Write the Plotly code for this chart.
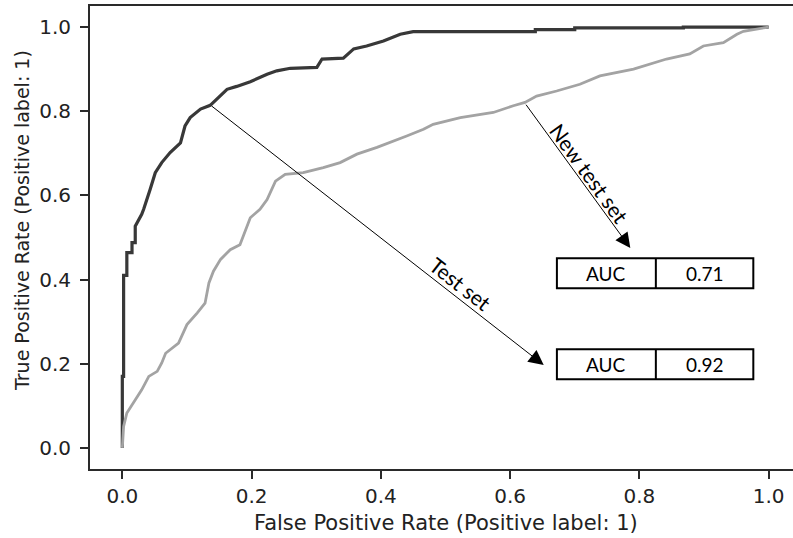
import plotly.graph_objects as go

# ---- data ----
fpr_test = [0, 0, 0.002, 0.002, 0.007, 0.007, 0.015, 0.015, 0.02, 0.02, 0.03, 0.033,
            0.043, 0.051, 0.061, 0.074, 0.09, 0.097, 0.105, 0.121, 0.136, 0.149, 0.162,
            0.177, 0.198, 0.224, 0.239, 0.26, 0.301, 0.309, 0.342, 0.358, 0.378, 0.404,
            0.43, 0.45, 0.639, 0.639, 0.70, 0.70, 0.868, 0.868, 1.0]
tpr_test = [0, 0.17, 0.17, 0.41, 0.41, 0.464, 0.464, 0.488, 0.488, 0.527, 0.555, 0.567,
            0.614, 0.654, 0.678, 0.702, 0.725, 0.765, 0.785, 0.805, 0.814, 0.833, 0.852,
            0.859, 0.87, 0.888, 0.896, 0.902, 0.904, 0.924, 0.926, 0.948, 0.955, 0.967,
            0.983, 0.989, 0.989, 0.994, 0.994, 0.998, 0.998, 1.0, 1.0]

fpr_new = [0, 0.002, 0.007, 0.017, 0.03, 0.041, 0.054, 0.061, 0.067, 0.087, 0.1, 0.116,
           0.128, 0.134, 0.141, 0.152, 0.167, 0.182, 0.193, 0.198, 0.213, 0.224, 0.237,
           0.252, 0.28, 0.311, 0.337, 0.363, 0.394, 0.414, 0.44, 0.466, 0.481, 0.523,
           0.574, 0.605, 0.623, 0.641, 0.672, 0.708, 0.739, 0.791, 0.842, 0.878, 0.899,
           0.93, 0.951, 0.961, 0.982, 1.0]
tpr_new = [0, 0.051, 0.083, 0.106, 0.138, 0.17, 0.182, 0.202, 0.225, 0.249, 0.293, 0.321,
           0.344, 0.392, 0.42, 0.448, 0.471, 0.483, 0.527, 0.547, 0.567, 0.59, 0.634,
           0.65, 0.654, 0.666, 0.678, 0.698, 0.714, 0.725, 0.741, 0.757, 0.769, 0.785,
           0.797, 0.813, 0.821, 0.836, 0.848, 0.864, 0.884, 0.9, 0.924, 0.936, 0.955,
           0.963, 0.983, 0.99, 0.996, 1.0]

tick_vals = [0.0, 0.2, 0.4, 0.6, 0.8, 1.0]
tick_text = ["0.0", "0.2", "0.4", "0.6", "0.8", "1.0"]

set_labels = ["Test set", "New test set"]
auc_label = "AUC"
auc_values = ["0.92", "0.71"]

x_title = "False Positive Rate (Positive label: 1)"
y_title = "True Positive Rate (Positive label: 1)"

# ---- figure ----
fig = go.Figure()
fig.add_trace(go.Scatter(x=fpr_test, y=tpr_test, mode="lines",
                         line=dict(color="#383838", width=3.2), showlegend=False))
fig.add_trace(go.Scatter(x=fpr_new, y=tpr_new, mode="lines",
                         line=dict(color="#a3a3a3", width=2.8), showlegend=False))

tick_font = dict(family="DejaVu Sans", size=20, color="#222222")
fig.update_layout(
    width=793, height=538,
    margin=dict(l=90, r=0, t=6, b=69),
    paper_bgcolor="white", plot_bgcolor="white",
    showlegend=False,
    xaxis=dict(range=[-0.05, 1.0377], tickvals=tick_vals, ticktext=tick_text,
               showgrid=False, zeroline=False, showline=True, mirror=True,
               linecolor="#2a2a2a", linewidth=2, ticks="outside", ticklen=8,
               tickwidth=2, tickcolor="#2a2a2a", tickfont=tick_font),
    yaxis=dict(range=[-0.05, 1.05], tickvals=tick_vals, ticktext=tick_text,
               showgrid=False, zeroline=False, showline=True, mirror=False,
               linecolor="#2a2a2a", linewidth=2, ticks="outside", ticklen=8,
               tickwidth=2, tickcolor="#2a2a2a", tickfont=tick_font,
               ticklabelstandoff=5),
)

# axis titles
fig.add_annotation(text=x_title, xref="x", yref="paper", x=0.501, y=-0.1166,
                   xanchor="center", yanchor="middle", showarrow=False,
                   font=dict(family="DejaVu Sans", size=21, color="#222222"))
fig.add_annotation(text=y_title, xref="paper", yref="paper", x=-0.0967, y=0.5356,
                   xanchor="center", yanchor="middle", textangle=-90, showarrow=False,
                   font=dict(family="DejaVu Sans", size=19, color="#222222"))

lbl_font = dict(family="Lato", size=19, color="black")
arrow_lbl_font = dict(family="Lato", size=21, color="black")

# arrows: (tail on curve) -> (tip near box)
arrows = [
    dict(tail=(0.136, 0.815), tip=(0.652, 0.197), text_pos=(0.523, 0.390), angle=38),
    dict(tail=(0.623, 0.819), tip=(0.786, 0.475), text_pos=(0.723, 0.652), angle=54),
]
for a, lab in zip(arrows, set_labels):
    fig.add_annotation(x=a["tip"][0], y=a["tip"][1], ax=a["tail"][0], ay=a["tail"][1],
                       xref="x", yref="y", axref="x", ayref="y", text="",
                       showarrow=True, arrowhead=2, arrowsize=3, arrowwidth=1,
                       arrowcolor="black", standoff=0, startstandoff=0)
    fig.add_annotation(x=a["text_pos"][0], y=a["text_pos"][1], xref="x", yref="y",
                       text=lab, showarrow=False, textangle=a["angle"], font=arrow_lbl_font)

# AUC boxes
boxes = [
    dict(y0=0.1633, y1=0.2346),  # test set
    dict(y0=0.3796, y1=0.4509),  # new test set
]
bx0, bmid, bx1 = 0.6724, 0.8255, 0.9763
for b, val in zip(boxes, auc_values):
    fig.add_shape(type="rect", xref="x", yref="y", x0=bx0, x1=bx1, y0=b["y0"], y1=b["y1"],
                  line=dict(color="black", width=2), fillcolor="white")
    fig.add_shape(type="line", xref="x", yref="y", x0=bmid, x1=bmid, y0=b["y0"], y1=b["y1"],
                  line=dict(color="black", width=2))
    yc = (b["y0"] + b["y1"]) / 2
    fig.add_annotation(x=(bx0 + bmid) / 2, y=yc, xref="x", yref="y", text=auc_label,
                       showarrow=False, font=lbl_font)
    fig.add_annotation(x=(bmid + bx1) / 2, y=yc, xref="x", yref="y", text=val,
                       showarrow=False, font=lbl_font)

fig.write_html("out.html")
